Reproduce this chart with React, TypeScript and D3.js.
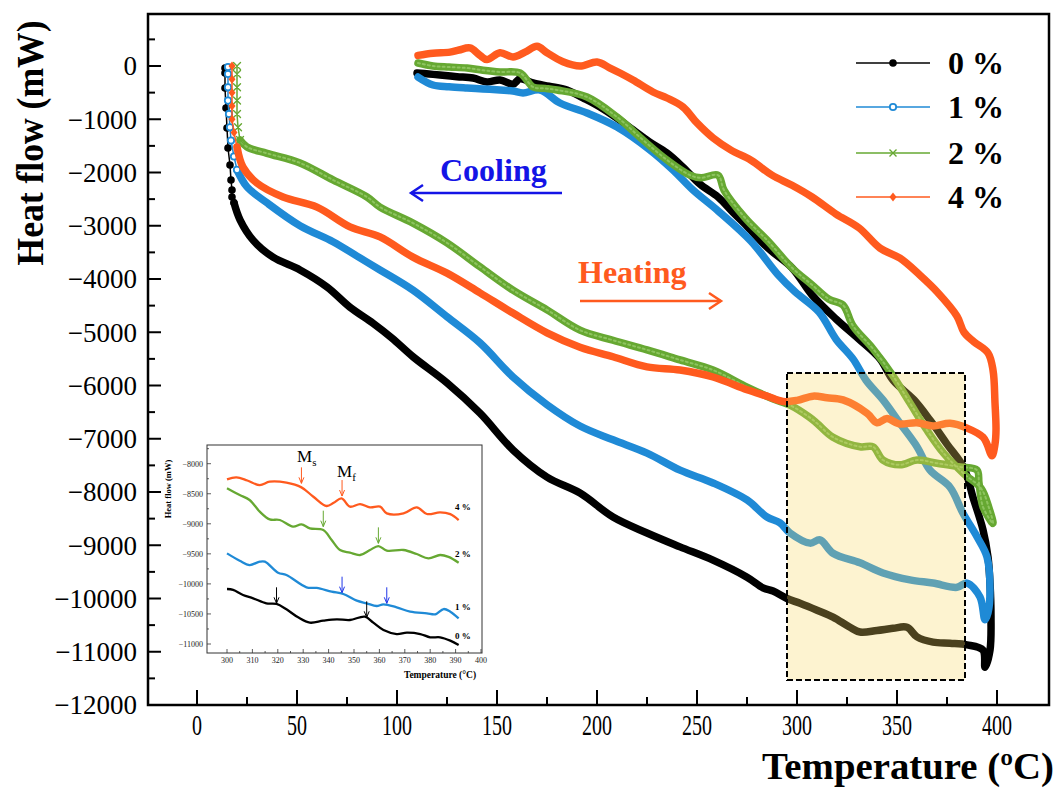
import * as d3 from "d3";

type Pt = [number, number];

// ---- main chart data: [temperature (ºC), heat flow (mW)] ----
const heat0: Pt[] = [[110,-131],[116,-150],[121.5,-169],[130,-200],[138,-225],[145,-300],[151.5,-263],[158,-340],[161.5,-240],[168,-319],[176,-380],[185,-451],[193,-600],[201.5,-770],[210,-980],[218,-1200],[226,-1420],[235,-1634],[243,-1900],[251.5,-2220],[260.5,-2460],[268,-2750],[274,-2970],[285.5,-3420],[297.5,-3790],[307.5,-4300],[319.5,-4750],[331,-5130],[341.5,-5500],[348,-5900],[358.5,-6270],[366.5,-6650],[375,-7100],[383.5,-7550],[388,-8100],[393,-8710],[395.5,-9220],[396.5,-9710],[397,-10350],[396.5,-10970],[394,-11290]];
const cool0: Pt[] = [[393,-10970],[385,-10870],[376.5,-10840],[368,-10820],[360,-10720],[355,-10540],[348,-10560],[340,-10600],[331.5,-10630],[326.5,-10540],[318,-10350],[310,-10220],[301.5,-10090],[295,-10000],[288,-9860],[283,-9800],[275,-9600],[258,-9280],[241.5,-9030],[225,-8770],[208,-8470],[191.5,-8020],[175,-7720],[158,-7210],[141.5,-6520],[125,-5950],[108,-5460],[97.5,-5110],[88,-4830],[76.5,-4530],[65,-4150],[51.5,-3830],[38,-3590],[28,-3270],[21.5,-2890],[18.5,-2570]];
const rise0: Pt[] = [[18.5,-2570],[17.5,-2460],[17.5,-2330],[17,-2140],[16.5,-1859],[15.5,-1540],[15,-1164],[14.5,-789],[14,-413],[14,-131],[14,-38]];

const heat1: Pt[] = [[110.5,-207],[118,-357],[126,-390],[135,-413],[143,-430],[151.5,-451],[158,-470],[163,-507],[171.5,-451],[181.5,-695],[195,-883],[210,-1146],[226.5,-1577],[238,-1953],[248,-2330],[260.5,-2720],[277,-3290],[290.5,-3920],[299,-4240],[311,-4620],[319.5,-5130],[328,-5500],[334.5,-5900],[343,-6270],[351.5,-6710],[360,-7150],[366.5,-7590],[376.5,-7910],[383,-8400],[390,-8840],[395,-9220],[396.5,-9840],[395.5,-10270],[394,-10400]];
const cool1: Pt[] = [[391.5,-9970],[385,-9710],[380,-9790],[368,-9710],[356.5,-9650],[343,-9520],[331.5,-9330],[318,-9150],[311.5,-8900],[306.5,-8960],[296.5,-8770],[291.5,-8580],[285,-8470],[275,-8150],[258,-7830],[241.5,-7590],[225,-7270],[208,-7020],[191.5,-6760],[175,-6360],[158,-5840],[141.5,-5200],[125,-4710],[108,-4210],[91.5,-3830],[80,-3570],[68,-3300],[51.5,-3000],[35,-2570],[25,-2270],[20,-1950]];
const rise1: Pt[] = [[20,-1950],[18.5,-1700],[17,-1400],[16.5,-1150],[16,-900],[15.5,-650],[15.5,-400],[15.5,-150],[15.5,-20]];

const heat2: Pt[] = [[110.5,56],[118,0],[126,-20],[135,-38],[143,-80],[151.5,-113],[161.5,-131],[168,-394],[174,-420],[180,-451],[195,-582],[210,-958],[223,-1390],[235,-1765],[246.5,-2050],[252,-2100],[260.5,-2050],[263.5,-2330],[274,-2850],[285.5,-3290],[297.5,-3790],[307.5,-4110],[316,-4380],[323,-4490],[328,-4880],[338,-5310],[348,-5820],[356.5,-6330],[365,-6840],[373.5,-7280],[383.5,-7660],[392,-7930],[396,-8300],[398,-8590]];
const cool2: Pt[] = [[393,-8280],[391,-7830],[390,-7590],[381.5,-7530],[370,-7460],[360,-7400],[351.5,-7490],[343,-7400],[338,-7150],[331.5,-7150],[318,-6970],[310,-6710],[306,-6590],[296.5,-6370],[291.5,-6300],[285.5,-6210],[275,-6030],[258,-5710],[241.5,-5520],[225,-5330],[208,-5150],[191.5,-4960],[175,-4580],[158,-4210],[141.5,-3770],[125,-3320],[108,-2950],[91.5,-2650],[85,-2460],[68,-2140],[51.5,-1820],[35,-1640],[25,-1520],[21.5,-1390]];
const rise2: Pt[] = [[21.5,-1390],[20.5,-1150],[20,-900],[20,-650],[20,-400],[20,-150],[20,0]];

const heat4: Pt[] = [[110.5,200],[118,240],[126.5,260],[131,300],[136.5,340],[141.5,200],[145,120],[151.5,250],[158,170],[164,260],[170,370],[175,250],[183,80],[191.5,0],[200,75],[206.5,-38],[211.5,-131],[218,-263],[228,-488],[235,-601],[243,-770],[250,-1070],[258,-1350],[267,-1580],[277,-1770],[287.5,-2050],[297.5,-2240],[307.5,-2460],[319.5,-2780],[331,-3040],[341.5,-3420],[351.5,-3610],[361.5,-3930],[370,-4240],[380,-4700],[383.5,-5000],[388.5,-5180],[395.5,-5390],[398,-5710],[399,-6330],[399.5,-6840],[399,-7100],[397.5,-7320]];
const cool4: Pt[] = [[395,-7100],[393,-6970],[385,-6800],[376.5,-6710],[368,-6760],[360,-6700],[351,-6720],[345,-6620],[340,-6700],[335,-6520],[323,-6270],[315,-6230],[308,-6200],[300,-6280],[293,-6300],[285,-6200],[275,-6080],[258,-5840],[241.5,-5710],[225,-5650],[208,-5460],[191.5,-5280],[175,-5010],[158,-4640],[141.5,-4260],[125,-3890],[108,-3590],[91.5,-3210],[76.5,-3020],[60,-2650],[43,-2460],[30,-2200],[23,-1900],[20,-1520]];
const rise4: Pt[] = [[20,-1520],[18.5,-1250],[17.5,-1000],[17.5,-750],[17.5,-500],[17.5,-250],[17.5,0]];

// ---- inset data (cooling, 300–391 ºC) ----
const ins4: Pt[] = [[300,-8260],[303.7,-8227],[308,-8280],[312.9,-8355],[316.8,-8300],[323.4,-8316],[329.3,-8394],[334,-8550],[339.2,-8704],[342,-8650],[345.1,-8577],[348.4,-8715],[352.4,-8671],[356.3,-8726],[360.3,-8715],[362.9,-8826],[369.5,-8826],[374.7,-8726],[378.7,-8837],[383.9,-8810],[387.9,-8840],[391.2,-8937]];
const ins2: Pt[] = [[300,-8410],[305,-8521],[308.9,-8604],[312.9,-8798],[316.8,-8926],[320.8,-8937],[326,-9048],[329.3,-9009],[332.6,-9076],[337.9,-9103],[341.2,-9270],[344.5,-9436],[348.4,-9480],[352.4,-9519],[356.3,-9436],[359.6,-9370],[362.9,-9447],[369.5,-9436],[374.7,-9503],[379.3,-9575],[383.9,-9519],[387.2,-9550],[391.2,-9647]];
const ins1: Pt[] = [[300,-9492],[305,-9614],[308.9,-9686],[312.9,-9630],[314.9,-9630],[320.1,-9813],[323.4,-9852],[331.3,-10057],[335.3,-10068],[341.2,-10129],[345.8,-10168],[351.1,-10279],[355,-10323],[358.9,-10368],[361.6,-10340],[366.8,-10390],[372.1,-10462],[378.7,-10490],[382,-10506],[385.3,-10418],[387.9,-10462],[391.2,-10573]];
const ins0: Pt[] = [[300,-10085],[302.4,-10100],[306.3,-10185],[310.3,-10240],[315.5,-10323],[319.5,-10334],[323.4,-10423],[328,-10556],[332.6,-10645],[337.9,-10612],[343.2,-10590],[348.4,-10601],[354.3,-10545],[357.6,-10645],[361.6,-10767],[366.8,-10834],[370.8,-10812],[376.1,-10834],[380,-10889],[383.9,-10889],[387.9,-10944],[391.2,-11017]];

// transformation markers (tip of each arrow)
const arrows4: Pt[] = [[329.3,-8327],[345.3,-8538]];
const arrows2: Pt[] = [[337.9,-9048],[359.6,-9325]];
const arrows1: Pt[] = [[345.3,-10146],[362.9,-10323]];
const arrows0: Pt[] = [[319.5,-10323],[355,-10556]];

const seriesNames = ["0 %", "1 %", "2 %", "4 %"];
const colors = ["#000000", "#1f8ad6", "#66a832", "#ff5a1e"];

const serif = "'Liberation Serif', 'Times New Roman', serif";

const W = 1062;
const H = 789;

// main frame
const fL = 148, fR = 1049, fT = 14, fB = 705;
const x = d3.scaleLinear().domain([0, 400]).range([197, 997]);
const y = d3.scaleLinear().domain([-12000, 0]).range([705, 66]);

// inset frame
const iL = 207, iR = 482, iT = 445, iB = 653;
const ix = d3.scaleLinear().domain([300, 400]).range([227, 481]);
const iy = d3.scaleLinear().domain([-8000, -11000]).range([463.7, 644]);

const smooth = d3.curveCatmullRom.alpha(0.5);
const line = d3.line<Pt>().x((d) => x(d[0])).y((d) => y(d[1])).curve(smooth);
const rline = d3.line<Pt>().x((d) => x(d[0])).y((d) => y(d[1]));
const iline = d3.line<Pt>().x((d) => ix(d[0])).y((d) => iy(d[1])).curve(smooth);

const fmt = d3.format("d");

function Marker({ kind, cx, cy, color }: { kind: number; cx: number; cy: number; color: string }) {
  if (kind === 0) return <circle cx={cx} cy={cy} r={3.8} fill={color} />;
  if (kind === 1) return <circle cx={cx} cy={cy} r={3.2} fill="white" stroke={color} strokeWidth={1.8} />;
  if (kind === 2)
    return (
      <path d={`M${cx - 3.5},${cy - 3.5}L${cx + 3.5},${cy + 3.5}M${cx - 3.5},${cy + 3.5}L${cx + 3.5},${cy - 3.5}`} stroke={color} strokeWidth={1.4} />
    );
  return <path d={`M${cx},${cy - 4.5}L${cx + 3.5},${cy}L${cx},${cy + 4.5}L${cx - 3.5},${cy}Z`} fill={color} />;
}

export default function App() {
  const mains = [
    { path: [...heat0, ...cool0], rise: rise0 },
    { path: [...heat1, ...cool1], rise: rise1 },
    { path: [...heat2, ...cool2], rise: rise2 },
    { path: [...heat4, ...cool4], rise: rise4 },
  ];
  const insets = [ins0, ins1, ins2, ins4];
  const insArrows = [arrows0, arrows1, arrows2, arrows4];
  const arrowColors = ["#000000", "#2035e8", "#66a832", "#ff5a1e"];
  const insLabelY = [636, 607, 554, 507];

  const xMinor = d3.range(0, 401, 25);
  const yMinor = d3.range(-12000, 501, 500);
  const yMajor = y.ticks(13).filter((v) => v <= 0);
  const xMajor = x.ticks(8);

  const legendY = [63, 107, 153, 197];

  return (
    <svg width={W} height={H} style={{ position: "absolute", left: 0, top: 0, background: "white" }}>
      {/* curves */}
      <g fill="none" strokeLinejoin="round" strokeLinecap="round">
        {mains.map((s, i) => (
          <g key={i}>
            <path d={line(s.path) ?? ""} stroke={colors[i]} strokeWidth={7.5} />
            {i === 2 && <path d={line(s.path) ?? ""} stroke="#8dc45f" strokeWidth={2} strokeDasharray="2 3" />}
            <path d={rline(s.rise) ?? ""} stroke={colors[i]} strokeWidth={1.5} />
            {s.rise.map((p, j) => (
              <Marker key={j} kind={i === 3 ? 3 : i} cx={x(p[0])} cy={y(p[1])} color={colors[i]} />
            ))}
          </g>
        ))}
      </g>

      {/* highlighted region */}
      <rect
        x={x(295)}
        y={y(-5765)}
        width={x(384) - x(295)}
        height={y(-11530) - y(-5765)}
        fill="rgb(248,215,98)"
        fillOpacity={0.3}
        stroke="#000"
        strokeWidth={2}
        strokeDasharray="6 3"
      />

      {/* frame and ticks */}
      <rect x={fL} y={fT} width={fR - fL} height={fB - fT} fill="none" stroke="#000" strokeWidth={2.5} />
      <g stroke="#000" strokeWidth={2}>
        {xMinor.map((v) => (
          <line key={v} x1={x(v)} x2={x(v)} y1={fB} y2={fB - (v % 50 === 0 ? 15 : 8)} />
        ))}
        {yMinor.map((v) => (
          <line key={v} x1={fL} x2={fL + (v % 1000 === 0 ? 13 : 7)} y1={y(v)} y2={y(v)} />
        ))}
      </g>
      <g fontFamily={serif} fontSize={27} fill="#000">
        {yMajor.map((v) => (
          <text key={v} x={137} y={y(v)} dy="0.35em" textAnchor="end">
            {fmt(v)}
          </text>
        ))}
      </g>
      <g fontFamily={serif} fontSize={29} fill="#000">
        {xMajor.map((v) => {
          const s = fmt(v);
          return (
            <text key={v} x={x(v)} y={735} textAnchor="middle" textLength={s.length * 10} lengthAdjust="spacingAndGlyphs">
              {s}
            </text>
          );
        })}
      </g>
      <text x={1054} y={779} textAnchor="end" fontFamily={serif} fontWeight="bold" fontSize={37} textLength={292} lengthAdjust="spacingAndGlyphs">
        Temperature (ºC)
      </text>
      <text
        transform="translate(43,143) rotate(-90)"
        textAnchor="middle"
        fontFamily={serif}
        fontWeight="bold"
        fontSize={38}
        textLength={245}
        lengthAdjust="spacingAndGlyphs"
      >
        Heat flow (mW)
      </text>

      {/* legend */}
      {seriesNames.map((n, i) => (
        <g key={n}>
          <line x1={856} x2={930} y1={legendY[i]} y2={legendY[i]} stroke={colors[i]} strokeWidth={1.5} />
          <Marker kind={i === 3 ? 3 : i} cx={893} cy={legendY[i]} color={colors[i]} />
          <text x={948} y={legendY[i] + 11} fontFamily={serif} fontWeight="bold" fontSize={32}>
            {n}
          </text>
        </g>
      ))}

      {/* annotations */}
      <text x={440} y={181} fontFamily={serif} fontWeight="bold" fontSize={32} fill="#1414e6">
        Cooling
      </text>
      <g stroke="#1414e6" strokeWidth={2.5} fill="none">
        <line x1={562} x2={411} y1={193} y2={193} />
        <path d="M423,185L411,193L423,201" />
      </g>
      <text x={578} y={283} fontFamily={serif} fontWeight="bold" fontSize={32} fill="#ff5a1e">
        Heating
      </text>
      <g stroke="#ff5a1e" strokeWidth={2.5} fill="none">
        <line x1={580} x2={721} y1={301} y2={301} />
        <path d="M709,293L721,301L709,309" />
      </g>

      {/* inset */}
      <g>
        <rect x={iL} y={iT} width={iR - iL} height={iB - iT} fill="white" stroke="#333" strokeWidth={1} />
        <g stroke="#333" strokeWidth={0.8}>
          {d3.range(300, 401, 5).map((v) => (
            <line key={v} x1={ix(v)} x2={ix(v)} y1={iB} y2={iB - (v % 10 === 0 ? 4 : 2)} />
          ))}
          {d3.range(-11000, -7749, 250).map((v) => (
            <line key={v} x1={iL} x2={iL + (v % 500 === 0 ? 4 : 2)} y1={iy(v)} y2={iy(v)} />
          ))}
        </g>
        <g fontFamily={serif} fontSize={8} fill="#222">
          {ix.ticks(10).map((v) => (
            <text key={v} x={ix(v)} y={663} textAnchor="middle">
              {fmt(v)}
            </text>
          ))}
          {d3.range(-11000, -7999, 500).map((v) => (
            <text key={v} x={203} y={iy(v)} dy="0.35em" textAnchor="end">
              {fmt(v)}
            </text>
          ))}
        </g>
        <text x={440} y={678} textAnchor="middle" fontFamily={serif} fontWeight="bold" fontSize={9.5}>
          Temperature (°C)
        </text>
        <text transform="translate(171,489) rotate(-90)" textAnchor="middle" fontFamily={serif} fontWeight="bold" fontSize={8.5}>
          Heat flow (mW)
        </text>
        <g fill="none" strokeLinejoin="round">
          {insets.map((s, i) => (
            <path key={i} d={iline(s) ?? ""} stroke={colors[i]} strokeWidth={2.3} />
          ))}
        </g>
        {insArrows.map((arr, i) =>
          arr.map((p, j) => {
            const ax = ix(p[0]);
            const ay = iy(p[1]);
            return (
              <g key={`${i}-${j}`} stroke={arrowColors[i]} strokeWidth={1} fill="none">
                <line x1={ax} x2={ax} y1={ay - 16} y2={ay} />
                <path d={`M${ax - 2.5},${ay - 6}L${ax},${ay}L${ax + 2.5},${ay - 6}`} />
              </g>
            );
          })
        )}
        <text x={297} y={462} fontFamily={serif} fontSize={17}>
          M<tspan fontSize={11} dy={4}>s</tspan>
        </text>
        <text x={337} y={477} fontFamily={serif} fontSize={17}>
          M<tspan fontSize={11} dy={4}>f</tspan>
        </text>
        {seriesNames.map((n, i) => (
          <text key={n} x={455} y={insLabelY[i] + 3} fontFamily={serif} fontWeight="bold" fontSize={9}>
            {n}
          </text>
        ))}
      </g>
    </svg>
  );
}
